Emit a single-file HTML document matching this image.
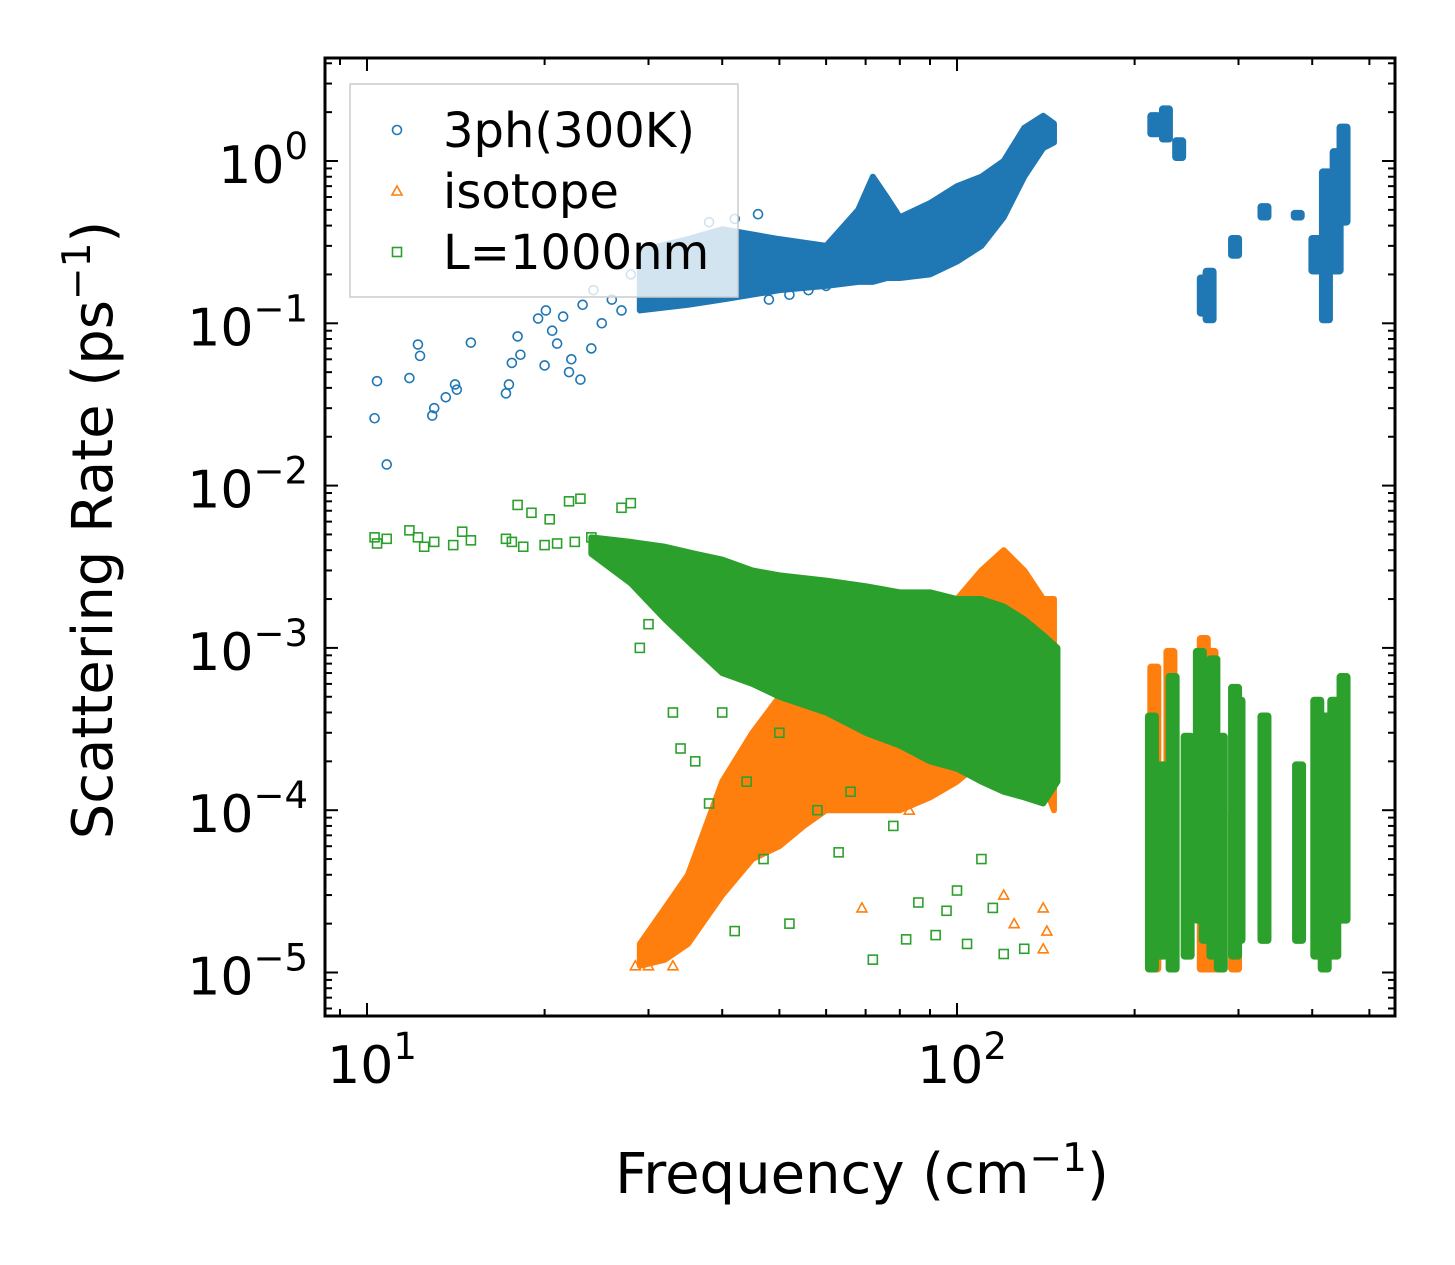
<!DOCTYPE html>
<html><head><meta charset="utf-8"><style>
body{margin:0;background:#fff}
svg{display:block;font-family:"DejaVu Sans","Liberation Sans",sans-serif}
</style></head><body>
<svg id="chart" width="1455" height="1265" viewBox="0 0 1455 1265" xmlns="http://www.w3.org/2000/svg">
<rect width="1455" height="1265" fill="#fff"/>
<g id="bands"></g>
<g id="points"></g>
<g id="axes"></g>
<g id="legend"></g>
</svg>
<script>
// ---- data ----
const xTickVals=[10,100];
const yTickVals=[1,0.1,0.01,0.001,0.0001,0.00001];
const yTickExp=["0","\u22121","\u22122","\u22123","\u22124","\u22125"];
const phFreq=[10.3,10.4,10.8,11.8,12.2,12.3,12.9,13,13.6,14.1,14.2,15,17.2,17.4,17.6,18,18.2,19.5,20,20.1,20.6,21,21.5,22,22.2,23,23.2,24,24.2,25,26,27,28,30,32,34,36,38,42,46,48,52,56,60];
const phRate=[0.026,0.044,0.0135,0.046,0.074,0.063,0.027,0.030,0.035,0.042,0.039,0.076,0.037,0.042,0.057,0.083,0.064,0.107,0.055,0.12,0.09,0.075,0.11,0.05,0.06,0.045,0.13,0.07,0.16,0.1,0.14,0.12,0.2,0.15,0.18,0.25,0.3,0.42,0.44,0.47,0.14,0.15,0.16,0.17];
const phBandF=[29,35,40,50,60,68,72,76,80,90,100,110,120,130,140,146];
const phBandLo=[0.12,0.13,0.14,0.16,0.17,0.18,0.18,0.19,0.19,0.2,0.24,0.3,0.45,0.8,1.2,1.3];
const phBandHi=[0.28,0.33,0.38,0.33,0.3,0.5,0.8,0.6,0.45,0.55,0.7,0.8,1.0,1.6,1.9,1.7];
const phClF=[216,226,238,262,268,296,332,378,405,422,440,452];
const phClLo=[1.4,1.3,1.0,0.11,0.1,0.25,0.43,0.43,0.2,0.1,0.2,0.4];
const phClHi=[2.0,2.2,1.4,0.2,0.22,0.35,0.55,0.5,0.35,0.9,1.2,1.7];
const isoBandF=[29,32,35,40,45,50,55,60,70,80,90,100,110,120,130,140,146];
const isoBandLo=[1.1e-5,1.2e-5,1.5e-5,3e-5,5e-5,6e-5,8e-5,1e-4,1e-4,1e-4,1.2e-4,1.5e-4,2e-4,2e-4,2e-4,1.5e-4,1e-4];
const isoBandHi=[1.5e-5,2.5e-5,4e-5,1.5e-4,3e-4,5e-4,6e-4,5e-4,7e-4,1e-3,1.5e-3,2e-3,3e-3,4e-3,3e-3,2e-3,2e-3];
const isoClF=[216,230,262,270,296];
const isoClLo=[1e-5,1.2e-5,1e-5,1e-5,1e-5];
const isoClHi=[8e-4,1e-3,1.2e-3,1e-3,1e-4];
const isoFreq=[69,83,120,125,140,140,142,28.5,30,33];
const isoRate=[2.5e-5,1e-4,3e-5,2e-5,1.4e-5,2.5e-5,1.8e-5,1.1e-5,1.1e-5,1.1e-5];
const grFreq=[10.3,10.4,10.8,11.8,12.2,12.5,13,14,14.5,15,17.2,17.6,18,18.4,19,20,20.4,21,22,22.5,23,24,25,26,27,28,29,30,31,33,34,36,38,40,42,44,47,50,52,55,58,63,66,72,78,82,86,92,96,100,104,110,115,120,130];
const grRate=[4.8e-3,4.4e-3,4.7e-3,5.3e-3,4.8e-3,4.2e-3,4.5e-3,4.3e-3,5.2e-3,4.6e-3,4.7e-3,4.5e-3,7.6e-3,4.2e-3,6.8e-3,4.3e-3,6.2e-3,4.4e-3,8e-3,4.5e-3,8.3e-3,4.8e-3,4.2e-3,3.7e-3,7.3e-3,7.8e-3,1e-3,1.4e-3,3.8e-3,4e-4,2.4e-4,2e-4,1.1e-4,4e-4,1.8e-5,1.5e-4,5e-5,3e-4,2e-5,5e-4,1e-4,5.5e-5,1.3e-4,1.2e-5,8e-5,1.6e-5,2.7e-5,1.7e-5,2.4e-5,3.2e-5,1.5e-5,5e-5,2.5e-5,1.3e-5,1.4e-5];
const grBandF=[24,28,32,36,40,45,50,60,70,80,90,100,110,120,130,140,148];
const grBandLo=[3.8e-3,2.5e-3,1.5e-3,1e-3,7e-4,6e-4,5e-4,4e-4,3e-4,2.5e-4,2e-4,1.8e-4,1.5e-4,1.3e-4,1.2e-4,1.1e-4,1.5e-4];
const grBandHi=[4.8e-3,4.5e-3,4.2e-3,3.8e-3,3.5e-3,3e-3,2.8e-3,2.6e-3,2.4e-3,2.2e-3,2.2e-3,2e-3,2e-3,1.8e-3,1.5e-3,1.2e-3,1e-3];
const grClF=[214,222,232,246,258,264,272,280,296,300,332,380,408,420,436,452];
const grClLo=[1e-5,1.2e-5,1e-5,1.2e-5,2e-5,1.5e-5,1.2e-5,1e-5,1.2e-5,1.5e-5,1.5e-5,1.5e-5,1.2e-5,1e-5,1.2e-5,2e-5];
const grClHi=[4e-4,2e-4,7e-4,3e-4,1e-3,8e-4,9e-4,3e-4,6e-4,5e-4,4e-4,2e-4,5e-4,4e-4,5e-4,7e-4];

// ---- scales ----
const X0=367,XD=590,Y0=161,YD=162.3;
const L=325,R=1395,T=58,B=1016;
const sx=f=>X0+XD*(Math.log10(f)-1);
const sy=v=>Y0-YD*Math.log10(v);
const NS="http://www.w3.org/2000/svg";
function mk(tag,attrs,parent){const e=document.createElementNS(NS,tag);for(const k in attrs)e.setAttribute(k,attrs[k]);parent.appendChild(e);return e;}
const C={b:"#1f77b4",o:"#ff7f0e",g:"#2ca02c"};
const bands=document.getElementById('bands'),pts=document.getElementById('points'),axes=document.getElementById('axes'),leg=document.getElementById('legend');

function band(F,Lo,Hi,col,name){
  let p=F.map((f,i)=>sx(f)+","+sy(Hi[i]));
  for(let i=F.length-1;i>=0;i--)p.push(sx(F[i])+","+sy(Lo[i]));
  const e=mk('polygon',{points:p.join(" "),fill:col,stroke:col,'stroke-width':6,'stroke-linejoin':'round'},bands);
  
  
}
function clusters(F,Lo,Hi,col,name){
  F.forEach((f,i)=>{
    const e=mk('rect',{x:sx(f)-7,y:sy(Hi[i]),width:14,height:sy(Lo[i])-sy(Hi[i]),fill:col,rx:4},bands);
    
    
  });
}
function marker(kind,cx,cy,col,parent){
  let e;
  if(kind==='c')e=mk('circle',{cx,cy,r:4.5,fill:'none',stroke:col,'stroke-width':1.6},parent);
  else if(kind==='t')e=mk('polygon',{points:`${cx},${cy-5} ${cx-5},${cy+4} ${cx+5},${cy+4}`,fill:'none',stroke:col,'stroke-width':1.6},parent);
  else e=mk('rect',{x:cx-4.5,y:cy-4.5,width:9,height:9,fill:'none',stroke:col,'stroke-width':1.6},parent);
  return e;
}
band(phBandF,phBandLo,phBandHi,C.b,'3ph-dense-band');
clusters(phClF,phClLo,phClHi,C.b,'3ph-cluster');
band(isoBandF,isoBandLo,isoBandHi,C.o,'isotope-dense-band');
clusters(isoClF,isoClLo,isoClHi,C.o,'isotope-cluster');
band(grBandF,grBandLo,grBandHi,C.g,'boundary-dense-band');
clusters(grClF,grClLo,grClHi,C.g,'boundary-cluster');
phFreq.forEach((f,i)=>{const e=marker('c',sx(f),sy(phRate[i]),C.b,pts);
  
  });
isoFreq.forEach((f,i)=>{const e=marker('t',sx(f),sy(isoRate[i]),C.o,pts);
  
  });
grFreq.forEach((f,i)=>{const e=marker('s',sx(f),sy(grRate[i]),C.g,pts);
  
  });

// ---- axes ----
const frame=mk('rect',{x:L,y:T,width:R-L,height:B-T,fill:'none',stroke:'#000','stroke-width':3},axes);


for(let e=0;e<=2;e++)for(let m=1;m<10;m++){
  const val=m*Math.pow(10,e);
  const x=sx(val);
  if(x<L||x>R)continue;
  const len=m===1?13:7;
  mk('line',{x1:x,y1:B,x2:x,y2:B-len,stroke:'#000','stroke-width':2},axes);
  mk('line',{x1:x,y1:T,x2:x,y2:T+len,stroke:'#000','stroke-width':2},axes);
}
xTickVals.forEach(v=>{
  const t=mk('text',{x:sx(v)+5,y:1083,'font-size':52,'text-anchor':'middle'},axes);
  
  
  t.innerHTML=`10<tspan dy="-24" font-size="37">${Math.round(Math.log10(v))}</tspan>`;
});
for(let e=-6;e<=0;e++)for(let m=1;m<10;m++){
  const val=m*Math.pow(10,e);
  const y=sy(val);
  if(y<T||y>B)continue;
  const len=m===1?13:7;
  mk('line',{x1:L,y1:y,x2:L+len,y2:y,stroke:'#000','stroke-width':2},axes);
  mk('line',{x1:R,y1:y,x2:R-len,y2:y,stroke:'#000','stroke-width':2},axes);
}
yTickVals.forEach((v,i)=>{
  const t=mk('text',{x:308,y:sy(v)+22,'font-size':52,'text-anchor':'end'},axes);
  
  
  t.innerHTML=`10<tspan dy="-24" font-size="37">${yTickExp[i]}</tspan>`;
});
const xl=mk('text',{x:862,y:1193,'font-size':56,'text-anchor':'middle'},axes);


xl.innerHTML='Frequency (cm<tspan dy="-22" font-size="39">\u22121</tspan><tspan dy="22">)</tspan>';
const yl=mk('text',{x:0,y:0,'font-size':56,'text-anchor':'middle',transform:'translate(112,530) rotate(-90)'},axes);


yl.innerHTML='Scattering Rate (ps<tspan dy="-22" font-size="39">\u22121</tspan><tspan dy="22">)</tspan>';

// ---- legend ----
const lb=mk('rect',{x:350,y:84,width:388,height:213,fill:'rgba(255,255,255,0.8)',stroke:'#ccc','stroke-width':1.5},leg);


[['c',C.b,'3ph(300K)'],['t',C.o,'isotope'],['s',C.g,'L=1000nm']].forEach((d,i)=>{
  const y=130+i*61;
  const g=mk('g',{},leg);
  
  
  marker(d[0],397,y,d[1],g);
  const t=mk('text',{x:443,y:y+17,'font-size':48},g);
  t.textContent=d[2];
});
</script>
</body></html>
